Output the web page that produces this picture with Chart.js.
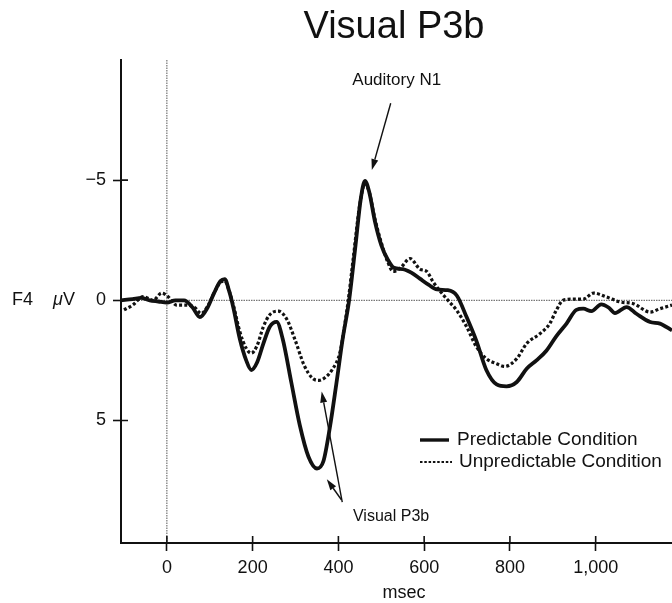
<!DOCTYPE html>
<html>
<head>
<meta charset="utf-8">
<script src="https://cdn.jsdelivr.net/npm/chart.js@4/dist/chart.umd.min.js"></script>
<style>
  html, body { margin: 0; padding: 0; background: #fff; }
  #wrap { position: relative; width: 672px; height: 603px; }
</style>
</head>
<body>
<div id="wrap"><canvas id="erp"></canvas></div>
<script>
// time (msec) and amplitude (uV, negative up)
const predictableMs = [-107, -80, -60, -40, -20, 0, 20, 40, 60, 77, 95, 110, 125, 135, 145, 155, 170, 185, 197, 210, 225, 240, 256, 270, 290, 310, 330, 350, 365, 380, 395, 410, 425, 440, 452, 462, 472, 485, 500, 515, 530, 550, 570, 590, 610, 630, 655, 676, 699, 722, 745, 769, 792, 816, 839, 862, 885, 908, 932, 955, 971, 990, 1013, 1030, 1045, 1072, 1095, 1127, 1150, 1178];
const predictableUv = [0.0, -0.05, -0.1, 0.0, 0.05, 0.1, 0.0, 0.0, 0.3, 0.7, 0.3, -0.3, -0.8, -0.88, -0.4, 0.3, 1.6, 2.5, 2.9, 2.6, 1.8, 1.1, 0.9, 1.6, 3.4, 5.2, 6.5, 7.0, 6.7, 5.3, 3.5, 1.6, 0.0, -2.3, -4.2, -4.97, -4.5, -3.3, -2.3, -1.7, -1.35, -1.3, -1.15, -0.9, -0.65, -0.45, -0.42, -0.2, 0.7, 1.7, 2.9, 3.5, 3.58, 3.4, 2.85, 2.5, 2.1, 1.5, 0.97, 0.4, 0.35, 0.45, 0.17, 0.3, 0.53, 0.28, 0.56, 0.9, 0.97, 1.25];

const unpredictableMs = [-100, -80, -55, -32, -12, 3, 23, 46, 65, 80, 95, 110, 125, 135, 145, 155, 170, 185, 197, 210, 225, 240, 260, 280, 300, 320, 340, 355, 370, 385, 404, 415, 423, 435, 450, 462, 472, 485, 500, 515, 528, 545, 567, 590, 606, 621, 652, 676, 699, 722, 745, 769, 788, 816, 839, 870, 893, 908, 924, 948, 971, 995, 1025, 1057, 1088, 1127, 1150, 1178];
const unpredictableUv = [0.4, 0.2, -0.15, 0.0, -0.3, -0.15, 0.2, 0.2, 0.3, 0.55, 0.25, -0.3, -0.75, -0.8, -0.4, 0.2, 1.3, 2.0, 2.2, 1.9, 1.1, 0.6, 0.45, 0.8, 1.7, 2.7, 3.25, 3.33, 3.2, 2.9, 2.15, 1.0, 0.0, -1.8, -4.0, -4.85, -4.5, -3.4, -2.4, -1.6, -1.2, -1.35, -1.74, -1.3, -1.2, -0.76, -0.07, 0.42, 1.1, 1.94, 2.43, 2.64, 2.75, 2.43, 1.8, 1.39, 0.97, 0.42, 0.0, -0.05, -0.05, -0.3, -0.14, 0.07, 0.14, 0.49, 0.35, 0.2];

const xTicks = [0, 200, 400, 600, 800, 1000];
const yTicks = [-5, 0, 5];
const seriesNames = ["Predictable Condition", "Unpredictable Condition"];

// annotation anchors in data units [msec, uV]
const n1Label = { text: "Auditory N1", at: [536, -8.96] };
const n1Arrow = { from: [522, -8.2], to: [478, -5.42] };
const p3Label = { text: "Visual P3b", at: [434, 9.2] };
const p3Arrows = [
  { from: [409, 8.4], to: [361, 3.8] },
  { from: [407, 8.3], to: [373, 7.45] }
];

const FONT = "'Liberation Sans', Arial, Helvetica, sans-serif";

const toPts = (xs, ys) => xs.map((x, i) => ({ x: x, y: ys[i] }));

function arrow(ctx, x1, y1, x2, y2) {
  const ang = Math.atan2(y2 - y1, x2 - x1);
  const head = 11, half = 3.5;
  const bx = x2 - head * Math.cos(ang), by = y2 - head * Math.sin(ang);
  ctx.beginPath();
  ctx.moveTo(x1, y1);
  ctx.lineTo(bx, by);
  ctx.stroke();
  ctx.beginPath();
  ctx.moveTo(x2, y2);
  ctx.lineTo(bx + half * Math.sin(ang), by - half * Math.cos(ang));
  ctx.lineTo(bx - half * Math.sin(ang), by + half * Math.cos(ang));
  ctx.closePath();
  ctx.fill();
}

const decorPlugin = {
  id: "decor",
  beforeDatasetsDraw(chart) {
    const { ctx, chartArea: a, scales: { x, y } } = chart;
    ctx.save();
    // dotted zero lines
    ctx.strokeStyle = "#555";
    ctx.lineWidth = 1;
    ctx.setLineDash([1.5, 1]);
    ctx.beginPath();
    ctx.moveTo(a.left, y.getPixelForValue(0));
    ctx.lineTo(a.right, y.getPixelForValue(0));
    ctx.moveTo(x.getPixelForValue(0), a.top);
    ctx.lineTo(x.getPixelForValue(0), a.bottom);
    ctx.stroke();
    ctx.restore();
  },
  afterDraw(chart) {
    const { ctx, chartArea: a, scales: { x, y } } = chart;
    const px = p => [x.getPixelForValue(p[0]), y.getPixelForValue(p[1])];
    ctx.save();
    ctx.fillStyle = "#111";
    ctx.strokeStyle = "#111";

    // inner halves of the tick marks (they cross the axis)
    ctx.lineWidth = 1.6;
    ctx.beginPath();
    y.ticks.forEach(t => {
      const py = y.getPixelForValue(t.value);
      ctx.moveTo(a.left, py); ctx.lineTo(a.left + 7, py);
    });
    x.ticks.forEach(t => {
      const pxx = x.getPixelForValue(t.value);
      ctx.moveTo(pxx, a.bottom); ctx.lineTo(pxx, a.bottom - 7);
    });
    ctx.stroke();

    // title
    ctx.font = "38px " + FONT;
    ctx.textAlign = "center";
    ctx.textBaseline = "alphabetic";
    ctx.fillText("Visual P3b", 394, 38);

    // y axis name
    ctx.font = "18px " + FONT;
    ctx.textAlign = "left";
    ctx.textBaseline = "middle";
    ctx.fillText("F4", 12, y.getPixelForValue(0));
    ctx.font = "italic 18px " + FONT;
    ctx.fillText("\u03bc", 53, y.getPixelForValue(0));
    ctx.font = "18px " + FONT;
    ctx.fillText("V", 63, y.getPixelForValue(0));

    // x axis name
    ctx.textAlign = "center";
    ctx.textBaseline = "alphabetic";
    ctx.fillText("msec", 404, 598);

    // annotations
    ctx.lineWidth = 1.4;
    ctx.font = "17px " + FONT;
    let p = px(n1Label.at);
    ctx.fillText(n1Label.text, p[0], p[1]);
    arrow(ctx, ...px(n1Arrow.from), ...px(n1Arrow.to));
    ctx.font = "16px " + FONT;
    ctx.textAlign = "left";
    p = px(p3Label.at);
    ctx.fillText(p3Label.text, p[0], p[1]);
    p3Arrows.forEach(ar => arrow(ctx, ...px(ar.from), ...px(ar.to)));

    // legend
    const ds = chart.data.datasets;
    const lx = 420, ly = [440, 462];
    ctx.font = "19px " + FONT;
    ctx.textBaseline = "middle";
    ds.forEach((d, i) => {
      ctx.save();
      ctx.lineWidth = i === 0 ? 3.4 : 2.2;
      ctx.setLineDash(i === 0 ? [] : [2.5, 1.8]);
      ctx.beginPath();
      ctx.moveTo(lx, ly[i]);
      ctx.lineTo(lx + (i === 0 ? 29 : 32), ly[i]);
      ctx.stroke();
      ctx.restore();
      ctx.fillText(d.label, lx + (i === 0 ? 37 : 39), ly[i]);
    });
    ctx.restore();
  }
};

new Chart(document.getElementById("erp"), {
  type: "line",
  data: {
    datasets: [
      {
        label: seriesNames[0],
        data: toPts(predictableMs, predictableUv),
        borderColor: "#111",
        borderWidth: 3.8,
        pointRadius: 0,
        cubicInterpolationMode: "monotone"
      },
      {
        label: seriesNames[1],
        data: toPts(unpredictableMs, unpredictableUv),
        borderColor: "#111",
        borderWidth: 3.2,
        borderDash: [3, 2.2],
        pointRadius: 0,
        cubicInterpolationMode: "monotone"
      }
    ]
  },
  options: {
    responsive: true,
    maintainAspectRatio: false,
    animation: false,
    layout: { padding: { top: 60, right: 0, left: 0, bottom: 0 } },
    plugins: { legend: { display: false }, tooltip: { enabled: false } },
    scales: {
      x: {
        type: "linear",
        min: -107,
        max: 1178,
        afterBuildTicks: s => { s.ticks = xTicks.map(v => ({ value: v })); },
        afterFit: s => { s.height = 60; },
        border: { display: true, color: "#111", width: 2 },
        grid: { drawOnChartArea: false, drawTicks: true, tickLength: 8, color: "#111", tickWidth: 1.6 },
        ticks: {
          color: "#111",
          font: { family: FONT, size: 18 },
          padding: 6,
          maxRotation: 0,
          callback: v => v.toLocaleString("en-US")
        }
      },
      y: {
        type: "linear",
        reverse: true,
        min: -10,
        max: 10.1,
        afterBuildTicks: s => { s.ticks = yTicks.map(v => ({ value: v })); },
        afterFit: s => { s.width = 121; },
        border: { display: true, color: "#111", width: 2 },
        grid: { drawOnChartArea: false, drawTicks: true, tickLength: 8, color: "#111", tickWidth: 1.6 },
        ticks: {
          color: "#111",
          font: { family: FONT, size: 18 },
          padding: 7,
          callback: v => (v < 0 ? "\u2212" + Math.abs(v) : String(v))
        }
      }
    }
  },
  plugins: [decorPlugin]
});
</script>
</body>
</html>
